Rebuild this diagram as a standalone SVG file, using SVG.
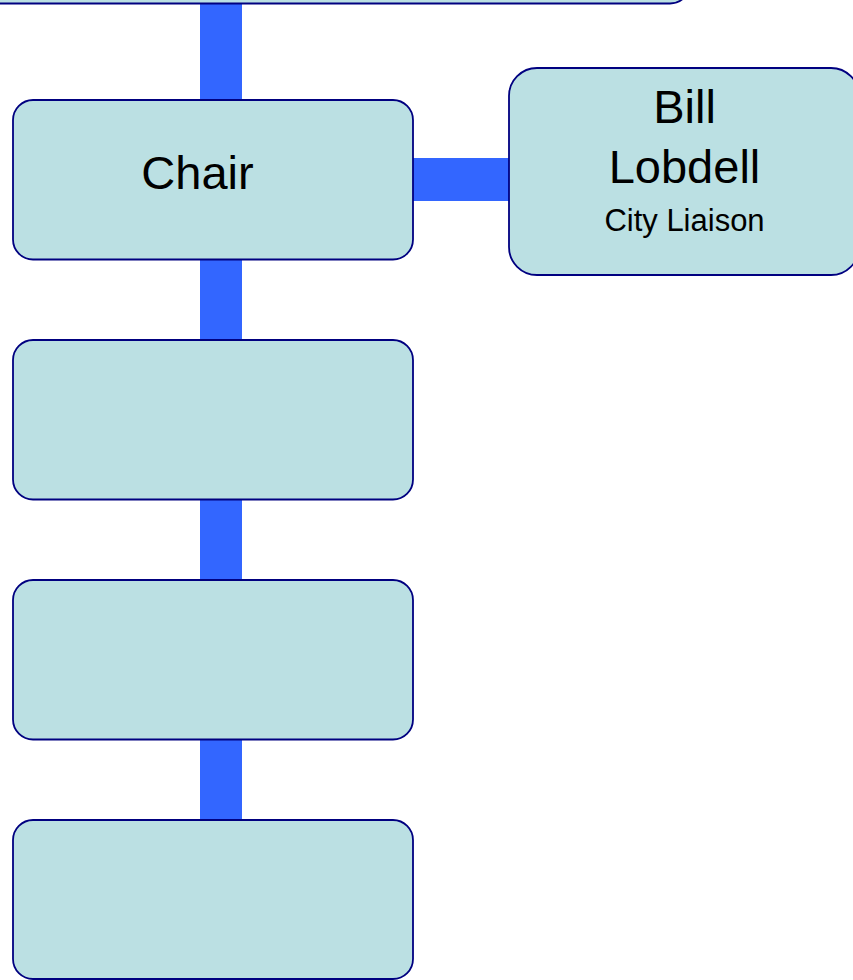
<svg xmlns="http://www.w3.org/2000/svg" width="853" height="980" viewBox="0 0 853 980">
<style>
.box{fill:#BBE0E3;stroke:#000080;stroke-width:1.8}
.conn{fill:#3366FF}
text{font-family:"Liberation Sans",Arial,sans-serif;fill:#000;text-anchor:middle}
</style>
<rect width="853" height="980" fill="#fff"/>
<g id="connectors">
<rect class="conn" x="200" y="3" width="42" height="98"/>
<rect class="conn" x="412" y="158" width="98" height="43"/>
<rect class="conn" x="200" y="259" width="42" height="82"/>
<rect class="conn" x="200" y="499" width="42" height="82"/>
<rect class="conn" x="200" y="739" width="42" height="82"/>
</g>
<g id="top-node">
<rect class="box" x="-300" y="-200" width="990" height="203.5" rx="20"/>
</g>
<g id="chair">
<rect class="box" x="13" y="100" width="400" height="159.5" rx="20"/>
<text x="197.5" y="189" font-size="47">Chair</text>
</g>
<g id="bill-lobdell">
<rect class="box" x="509" y="68" width="350" height="207" rx="28"/>
<text x="684.5" y="123" font-size="47">Bill</text>
<text x="684.5" y="183" font-size="47">Lobdell</text>
<text x="684.5" y="230.5" font-size="31">City Liaison</text>
</g>
<g id="box-2">
<rect class="box" x="13" y="340" width="400" height="159.5" rx="20"/>
</g>
<g id="box-3">
<rect class="box" x="13" y="580" width="400" height="159.5" rx="20"/>
</g>
<g id="box-4">
<rect class="box" x="13" y="820" width="400" height="159" rx="20"/>
</g>
</svg>
